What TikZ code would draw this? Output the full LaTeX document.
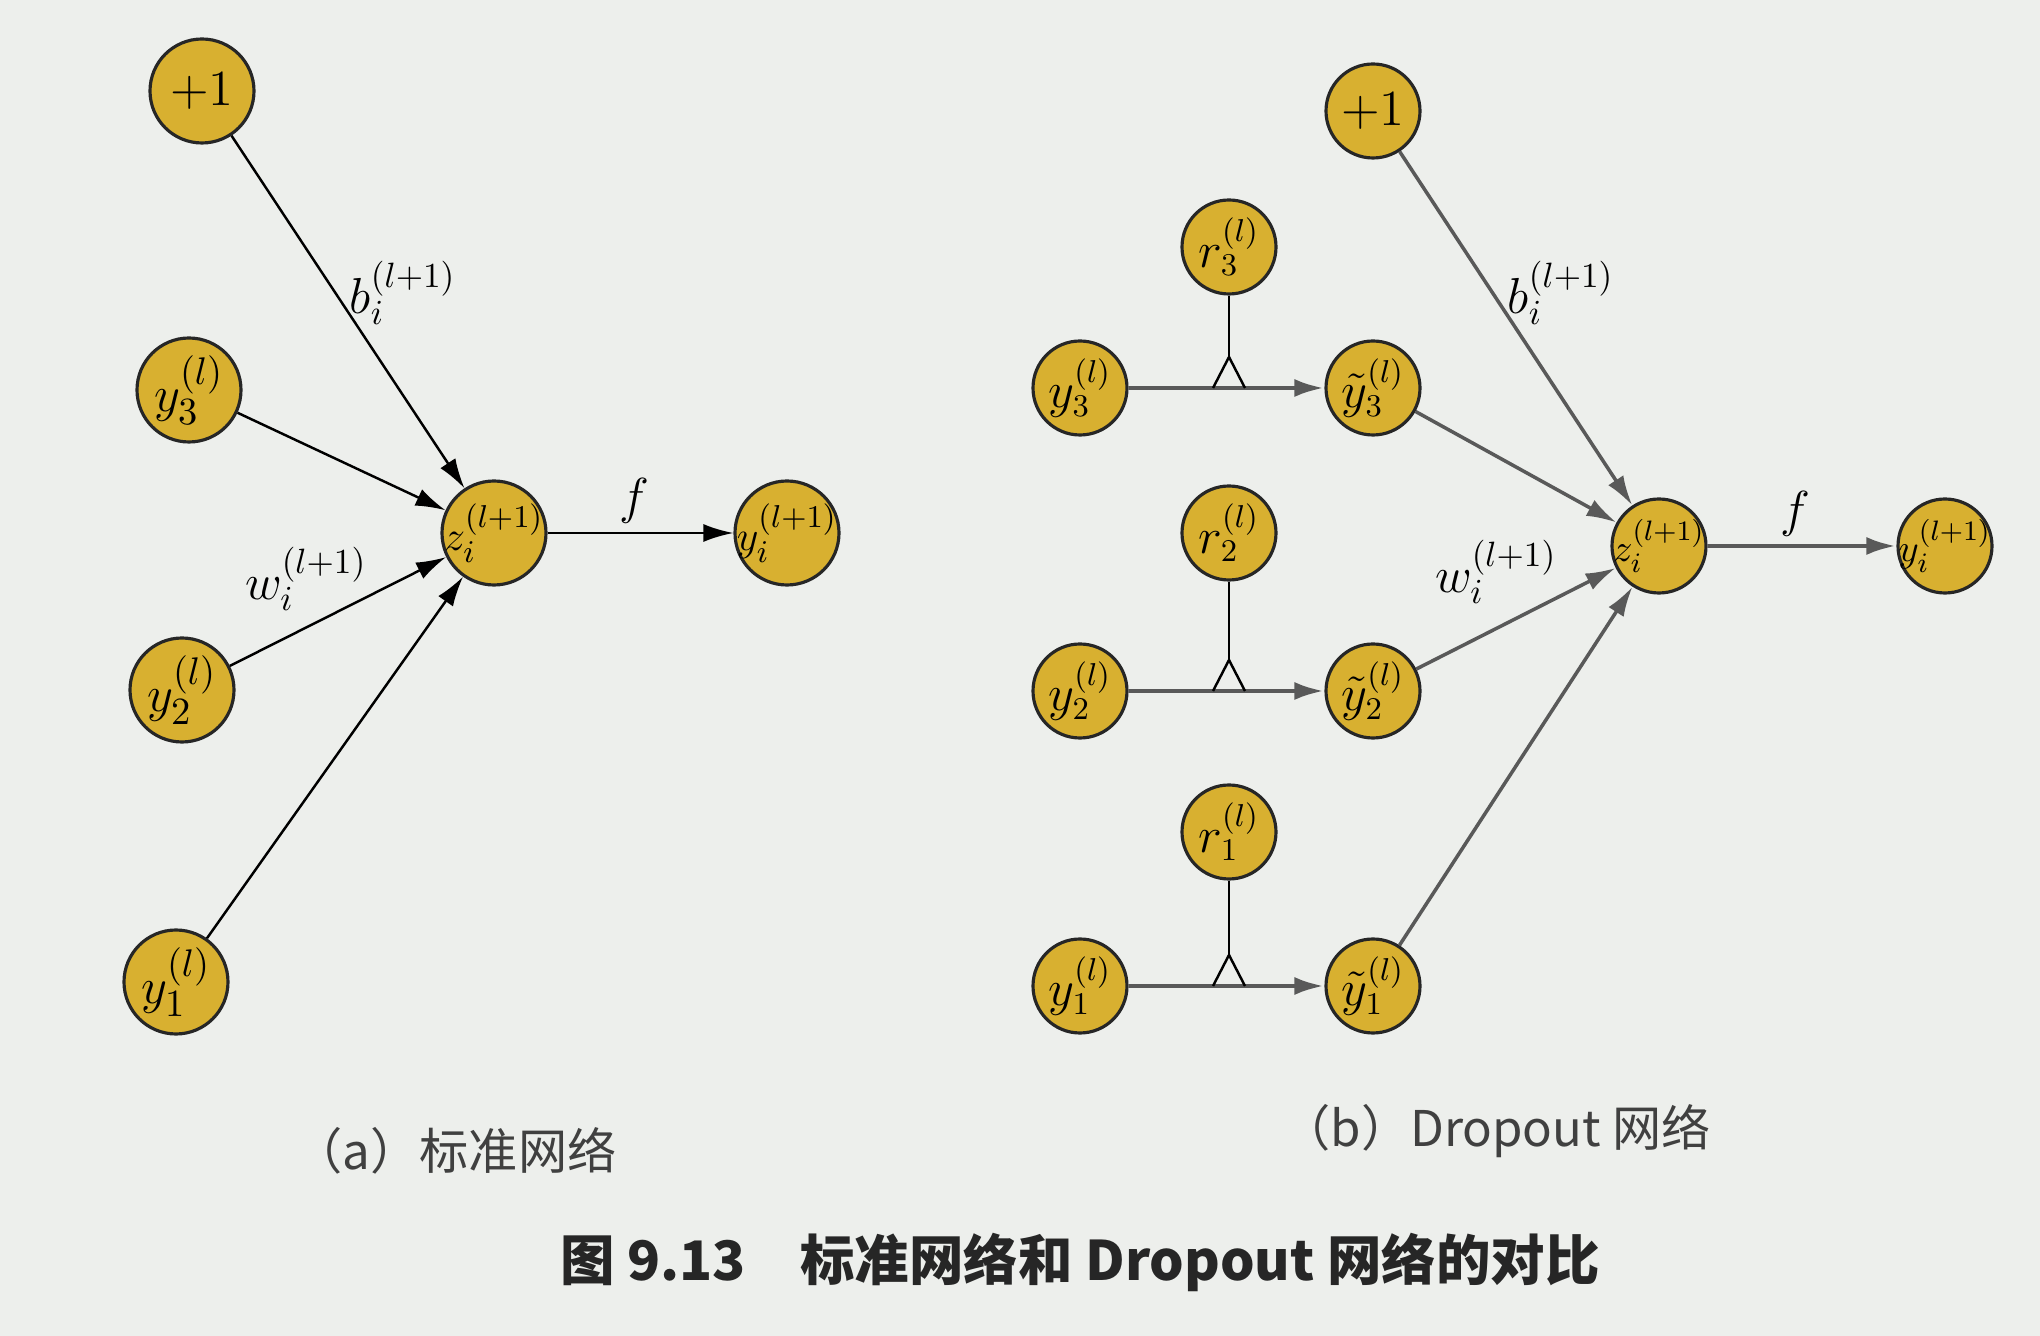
\documentclass[tikz,border=0pt]{standalone}
\usepackage{fontspec}
\usetikzlibrary{arrows.meta}
\newfontfamily\cjk{Noto Sans CJK SC}
\definecolor{gold}{RGB}{216,176,48}
\definecolor{paper}{RGB}{237,239,236}
\tikzset{
  unit/.style={circle,draw=black!85,line width=0.9pt,fill=gold,inner sep=-6pt,
    minimum size=1.04cm,font=\fontsize{15}{17}\selectfont},
  small/.style={unit,minimum size=0.94cm,font=\fontsize{13.5}{15}\selectfont},
  tight/.style={font=\fontsize{12.5}{14}\selectfont},
  stight/.style={font=\fontsize{11}{13}\selectfont},
  conn/.style={-{Latex[length=3mm,width=1.8mm]},line width=0.7pt},
  gconn/.style={conn,draw=black!65,line width=1pt},
  hconn/.style={gconn,line width=1.4pt},
  wlabel/.style={font=\fontsize{14}{16}\selectfont}
}
\begin{document}
\begin{tikzpicture}
  \fill[paper] (0,0) rectangle (20.4,13.36);
  \useasboundingbox (0,0) rectangle (20.4,13.36);

  % (a) standard network
  \node[unit] (one) at (2.02,12.45) {$+1$};
  \node[unit] (y3) at (1.89,9.46) {$y_3^{(l)}$};
  \node[unit] (y2) at (1.82,6.46) {$y_2^{(l)}$};
  \node[unit] (y1) at (1.76,3.54) {$y_1^{(l)}$};
  \node[unit,tight] (z) at (4.94,8.03) {$z_i^{(l+1)}$};
  \node[unit,tight] (yo) at (7.87,8.03) {$y_i^{(l+1)}$};

  \draw[conn] (one) -- (z);
  \draw[conn] (y3) -- (z);
  \draw[conn] (y2) -- (z);
  \draw[conn] (y1) -- (z);
  \draw[conn] (z) -- (yo);
  \node[wlabel] (b) at (4.03,10.43) {$b_i^{(l+1)}$};
  \node[wlabel] (w) at (3.06,7.57) {$w_i^{(l+1)}$};
  \node[wlabel] (f) at (6.34,8.35) {$f$};

  % (b) dropout network
  \node[small] (done) at (13.73,12.25) {$+1$};
  \node[small,stight] (dz) at (16.59,7.90) {$z_i^{(l+1)}$};
  \node[small,stight] (dyo) at (19.45,7.90) {$y_i^{(l+1)}$};
  \foreach \k/\y/\ry in {3/9.48/10.89, 2/6.45/8.03, 1/3.50/5.04} {
    \node[small] (dy\k) at (10.80,\y) {$y_\k^{(l)}$};
    \node[small] (dt\k) at (13.73,\y) {$\tilde{y}_\k^{(l)}$};
    \node[small] (dr\k) at (12.29,\ry) {$r_\k^{(l)}$};
    \draw[hconn] (dy\k) -- (dt\k);
    \coordinate (k\k) at (12.29,\y+0.31);
    \draw[line width=0.7pt] (dr\k) -- (k\k);
    \draw[line width=0.7pt] (12.13,\y) -- (k\k) -- (12.45,\y);
    \draw[gconn] (dt\k) -- (dz);
  }
  \draw[gconn] (done) -- (dz);
  \draw[hconn] (dz) -- (dyo);
  \node[wlabel] (db) at (15.61,10.43) {$b_i^{(l+1)}$};
  \node[wlabel] (dw) at (14.96,7.64) {$w_i^{(l+1)}$};
  \node[wlabel] (df) at (17.95,8.22) {$f$};

  % captions
  \node[font=\cjk\fontsize{14}{16}\selectfont,text=black!75] (capa) at (4.55,1.85) {（a）标准网络};
  \node[font=\cjk\fontsize{14}{16}\selectfont,text=black!75] (capb) at (14.96,2.05) {（b）Dropout 网络};
  \node[font=\cjk\bfseries\fontsize{15.5}{18}\selectfont,text=black!85] (title) at (10.80,0.74)
    {图 9.13\quad 标准网络和 Dropout 网络的对比};
\end{tikzpicture}
\end{document}
